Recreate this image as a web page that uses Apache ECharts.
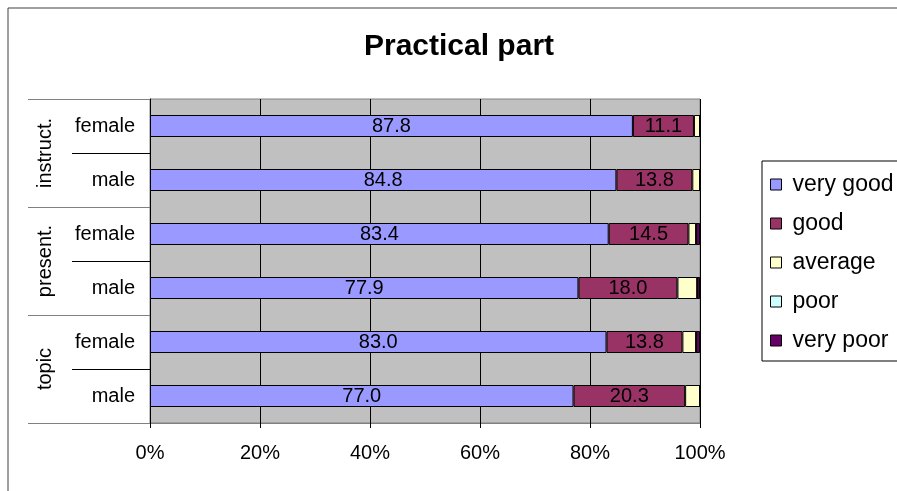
<!DOCTYPE html>
<html>
<head>
<meta charset="utf-8">
<script src="https://cdn.jsdelivr.net/npm/echarts@6/dist/echarts.min.js"></script>
<style>
  html, body { margin: 0; padding: 0; background: #fff; }
  #chart { width: 897px; height: 491px; }
</style>
</head>
<body>
<div id="chart"></div>
<script>
// Rows from top to bottom, grouped by evaluation aspect
const rowLabels = ['female', 'male', 'female', 'male', 'female', 'male'];
const groupLabels = ['instruct.', 'present.', 'topic'];
const xTicks = [0, 20, 40, 60, 80, 100];

// Share of ratings per row, in percent
const veryGood = [87.8, 84.8, 83.4, 77.9, 83.0, 77.0];
const good     = [11.1, 13.8, 14.5, 18.0, 13.8, 20.3];
const average  = [1.1, 1.4, 1.4, 3.6, 2.5, 2.7];
const poor     = [0, 0, 0, 0, 0, 0];
const veryPoor = [0, 0, 0.7, 0.5, 0.7, 0];

const seriesNames = ['very good', 'good', 'average', 'poor', 'very poor'];
const seriesColors = ['#9999FF', '#993366', '#FFFFCC', '#CCFFFF', '#660066'];
const seriesData = [veryGood, good, average, poor, veryPoor];

const FONT = 'Liberation Sans, Arial, sans-serif';

const chart = echarts.init(document.getElementById('chart'), null, { renderer: 'canvas' });

const series = seriesNames.map((name, i) => ({
  name,
  type: 'bar',
  stack: 'total',
  yAxisIndex: 0,
  barWidth: 22,
  data: seriesData[i],
  itemStyle: { color: seriesColors[i], borderColor: '#000', borderWidth: 1 },
  label: {
    show: i < 2,
    position: 'inside',
    color: '#000',
    fontFamily: FONT,
    fontSize: 20,
    formatter: p => p.value.toFixed(1)
  },
  emphasis: { disabled: true }
}));

chart.setOption({
  animation: false,
  backgroundColor: '#fff',
  title: {
    text: 'Practical part',
    left: 454,
    textAlign: 'center',
    top: 27,
    textStyle: { fontFamily: FONT, fontSize: 30, fontWeight: 'bold', color: '#000' }
  },
  legend: {
    orient: 'vertical',
    left: 762,
    top: 161,
    padding: [12, 12, 9, 8],
    itemGap: 16,
    itemWidth: 11,
    itemHeight: 11,
    icon: 'rect',
    borderColor: '#000',
    borderWidth: 1,
    itemStyle: { borderColor: '#000', borderWidth: 1 },
    textStyle: { fontFamily: FONT, fontSize: 23, color: '#000', lineHeight: 23, padding: [0, 0, 0, 6] },
    data: seriesNames
  },
  grid: {
    left: 150,
    right: 197,
    top: 99,
    bottom: 68,
    show: true,
    backgroundColor: '#C0C0C0',
    borderColor: '#808080',
    borderWidth: 1
  },
  xAxis: {
    type: 'value',
    min: xTicks[0],
    max: xTicks[xTicks.length - 1],
    interval: xTicks[1] - xTicks[0],
    axisLine: { show: true, lineStyle: { color: '#808080', width: 1 } },
    axisTick: { show: true, length: 5, lineStyle: { color: '#000' } },
    splitLine: { show: true, lineStyle: { color: '#000', width: 1 } },
    axisLabel: {
      fontFamily: FONT, fontSize: 20, color: '#000', margin: 20,
      formatter: '{value}%'
    }
  },
  yAxis: [
    {
      type: 'category',
      inverse: true,
      data: rowLabels,
      position: 'left',
      axisLine: { show: true, lineStyle: { color: '#000', width: 1 } },
      axisTick: { show: true, length: 78, lineStyle: { color: '#000' } },
      splitLine: { show: false },
      axisLabel: { fontFamily: FONT, fontSize: 20, color: '#000', margin: 15 }
    },
    {
      type: 'category',
      inverse: true,
      data: groupLabels,
      position: 'left',
      offset: 0,
      axisLine: { show: false },
      axisTick: { show: true, length: 122, lineStyle: { color: '#808080' } },
      splitLine: { show: false },
      axisLabel: { fontFamily: FONT, fontSize: 20, color: '#000', rotate: 90, margin: 95 }
    }
  ],
  graphic: [
    {
      type: 'rect',
      shape: { x: 8, y: 8, width: 920, height: 520 },
      style: { fill: null, stroke: '#404040', lineWidth: 1 },
      silent: true,
      z: -1
    }
  ],
  series
});
</script>
</body>
</html>
